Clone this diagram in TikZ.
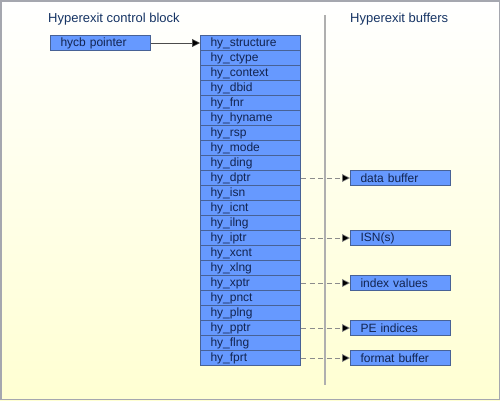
\documentclass[tikz,border=0pt]{standalone}
\usepackage{fontspec}
\setmainfont{Liberation Sans}
\usetikzlibrary{arrows.meta}
\definecolor{boxfill}{RGB}{102,153,255}
\definecolor{boxline}{RGB}{72,98,150}
\definecolor{boxtext}{RGB}{18,36,80}
\definecolor{titletext}{RGB}{22,52,100}
\definecolor{bgtop}{RGB}{255,255,255}
\definecolor{bgbot}{RGB}{255,255,210}
\definecolor{sepline}{RGB}{175,175,175}
\definecolor{framec}{RGB}{165,167,175}
\tikzset{
  cell/.style={draw=boxline, line width=1pt, fill=boxfill, text=boxtext,
    minimum width=100pt, minimum height=15pt, inner xsep=10pt, inner ysep=0pt,
    text width=80pt, align=left, anchor=north west, font=\fontsize{12}{13}\selectfont},
  title/.style={text=titletext, anchor=west, inner sep=0pt, font=\fontsize{13}{15}\selectfont},
  solidarrow/.style={draw=black!70, line width=0.6pt, -{Triangle[length=8pt,width=8pt,fill=black]}},
  dasharrow/.style={draw=black!45, line width=0.6pt, dash pattern=on 5pt off 3.5pt, -{Triangle[length=8pt,width=8pt,fill=black]}}
}
\begin{document}
\begin{tikzpicture}[x=1pt,y=-1pt]
\useasboundingbox (0,0) rectangle (500,400);
\shade[top color=bgtop, bottom color=bgbot] (0,0) rectangle (500,400);
\draw[framec, line width=1.5pt] (0.75,0.75) rectangle (499.25,399.25);
\node[title] (t1) at (48,19) {Hyperexit control block};
\node[title] (t2) at (350,19) {Hyperexit buffers};
\node[cell] (ptr) at (50,35) {hycb pointer};
\foreach \n [count=\i from 0] in {structure,ctype,context,dbid,fnr,hyname,rsp,mode,ding,dptr,isn,icnt,ilng,iptr,xcnt,xlng,xptr,pnct,plng,pptr,flng,fprt}
  \node[cell] (r\n) at (200,35+15*\i) {hy\_\n};
\node[cell] (bdata) at (350,170) {data buffer};
\node[cell] (bisn) at (350,230) {ISN(s)};
\node[cell] (bidx) at (350,275) {index values};
\node[cell] (bpe) at (350,320) {PE indices};
\node[cell] (bfmt) at (350,350) {format buffer};
\draw[solidarrow] (ptr.east) -- (rstructure.west);
\draw[dasharrow] (rdptr.east) -- (bdata.west);
\draw[dasharrow] (riptr.east) -- (bisn.west);
\draw[dasharrow] (rxptr.east) -- (bidx.west);
\draw[dasharrow] (rpptr.east) -- (bpe.west);
\draw[dasharrow] (rfprt.east) -- (bfmt.west);
\draw[sepline, line width=1.2pt] (325,15) coordinate (s1) -- (325,385) coordinate (s2);
\end{tikzpicture}
\end{document}
